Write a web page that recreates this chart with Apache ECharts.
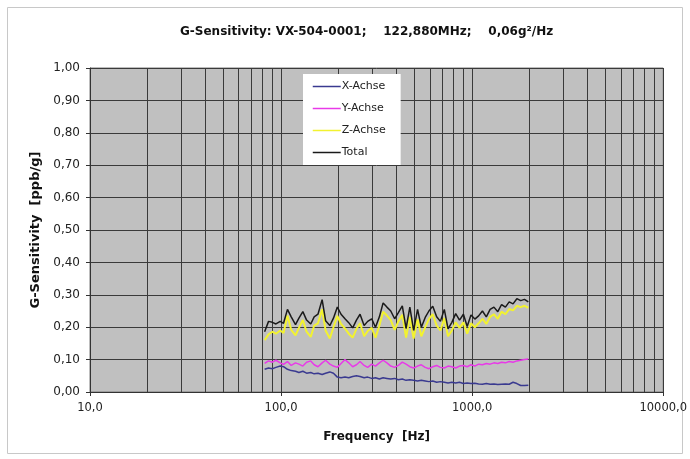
<!DOCTYPE html>
<html>
<head>
<meta charset="utf-8">
<script src="https://cdn.jsdelivr.net/npm/echarts@6/dist/echarts.min.js"></script>
<style>
html,body{margin:0;padding:0;background:#fff;}
#chart{width:690px;height:459px;}
</style>
</head>
<body>
<div id="chart"></div>
<script>
// Frequencies [Hz]
var freq = [82, 86, 90, 94, 99, 103, 108, 113, 119, 124, 130, 136, 143, 149, 156, 164, 171, 180, 188, 197,
  206, 216, 226, 237, 248, 259, 272, 284, 298, 312, 327, 342, 358, 375, 393, 411, 431, 451, 472, 494,
  518, 542, 568, 594, 622, 652, 682, 715, 748, 783, 820, 859, 900, 942, 986, 1033, 1081, 1132, 1186, 1242,
  1300, 1362, 1426, 1493, 1563, 1637, 1714, 1795, 1879, 1968];

var xAchse = [0.070, 0.074, 0.072, 0.076, 0.080, 0.078, 0.070, 0.066, 0.064, 0.060,
  0.064, 0.058, 0.060, 0.056, 0.058, 0.054, 0.058, 0.062, 0.058, 0.046,
  0.044, 0.046, 0.044, 0.048, 0.050, 0.048, 0.044, 0.046, 0.042, 0.044,
  0.040, 0.044, 0.042, 0.040, 0.042, 0.038, 0.040, 0.036, 0.038, 0.036,
  0.034, 0.036, 0.034, 0.032, 0.034, 0.030, 0.032, 0.030, 0.028, 0.030,
  0.028, 0.030, 0.026, 0.028, 0.026, 0.027, 0.025, 0.024, 0.026, 0.024,
  0.025, 0.023, 0.024, 0.025, 0.024, 0.030, 0.026, 0.020, 0.020, 0.021];

var yAchse = [0.088, 0.096, 0.092, 0.098, 0.090, 0.085, 0.094, 0.082, 0.090, 0.086,
  0.080, 0.092, 0.096, 0.084, 0.078, 0.090, 0.098, 0.086, 0.080, 0.076,
  0.088, 0.100, 0.090, 0.078, 0.084, 0.094, 0.082, 0.076, 0.086, 0.080,
  0.090, 0.098, 0.090, 0.080, 0.076, 0.082, 0.092, 0.086, 0.078, 0.074,
  0.080, 0.084, 0.076, 0.072, 0.078, 0.082, 0.076, 0.074, 0.080, 0.078,
  0.074, 0.080, 0.082, 0.078, 0.084, 0.080, 0.086, 0.084, 0.088, 0.086,
  0.090, 0.088, 0.092, 0.090, 0.094, 0.092, 0.096, 0.098, 0.100, 0.102];

var zAchse = [0.160, 0.178, 0.186, 0.180, 0.190, 0.182, 0.236, 0.192, 0.175, 0.198,
  0.222, 0.186, 0.170, 0.205, 0.212, 0.255, 0.190, 0.165, 0.200, 0.235,
  0.210, 0.196, 0.180, 0.168, 0.195, 0.212, 0.172, 0.188, 0.198, 0.168,
  0.205, 0.248, 0.236, 0.222, 0.192, 0.218, 0.238, 0.168, 0.232, 0.165,
  0.225, 0.172, 0.200, 0.225, 0.240, 0.205, 0.190, 0.228, 0.172, 0.190,
  0.215, 0.198, 0.215, 0.180, 0.212, 0.200, 0.212, 0.226, 0.210, 0.232,
  0.240, 0.226, 0.248, 0.240, 0.256, 0.252, 0.266, 0.262, 0.266, 0.260];

var total = [0.186, 0.218, 0.215, 0.210, 0.218, 0.212, 0.255, 0.232, 0.208, 0.228,
  0.248, 0.222, 0.210, 0.232, 0.240, 0.285, 0.220, 0.205, 0.228, 0.262,
  0.240, 0.226, 0.214, 0.198, 0.222, 0.240, 0.205, 0.218, 0.226, 0.200,
  0.232, 0.275, 0.262, 0.250, 0.226, 0.245, 0.266, 0.196, 0.262, 0.190,
  0.255, 0.200, 0.230, 0.250, 0.265, 0.232, 0.218, 0.255, 0.195, 0.215,
  0.242, 0.222, 0.240, 0.202, 0.238, 0.225, 0.235, 0.250, 0.232, 0.255,
  0.262, 0.248, 0.270, 0.262, 0.278, 0.272, 0.288, 0.282, 0.286, 0.278];

var seriesNames = ['X-Achse', 'Y-Achse', 'Z-Achse', 'Total'];
var minorGridX = [20, 30, 40, 50, 60, 70, 80, 90, 200, 300, 400, 500, 600, 700, 800, 900,
  2000, 3000, 4000, 5000, 6000, 7000, 8000, 9000];
var titleText = 'G-Sensitivity: VX-504-0001;    122,880MHz;    0,06g\u00B2/Hz';

function pairs(vals) { return freq.map(function (f, i) { return [f, vals[i]]; }); }

var FONT = '"DejaVu Sans", Verdana, sans-serif';
var colors = ['#3a3a90', '#e83ae8', '#f2f230', '#1a1a1a'];
var vals = [xAchse, yAchse, zAchse, total];

var series = [{
  name: 'grid-minor',
  type: 'line',
  data: [],
  silent: true,
  z: 1,
  markLine: {
    silent: true,
    symbol: 'none',
    z: 1,
    label: { show: false },
    lineStyle: { color: '#3a3a3a', width: 1, type: 'solid' },
    emphasis: { disabled: true },
    animation: false,
    data: minorGridX.map(function (v) { return { xAxis: v }; })
  }
}];
seriesNames.forEach(function (n, k) {
  series.push({
    name: n,
    type: 'line',
    data: pairs(vals[k]),
    symbol: 'none',
    z: 3 + k,
    lineStyle: { color: colors[k], width: k === 2 ? 2 : 1.5 },
    itemStyle: { color: colors[k] }
  });
});

var chart = echarts.init(document.getElementById('chart'), null, { renderer: 'canvas' });
chart.setOption({
  animation: false,
  backgroundColor: '#ffffff',
  textStyle: { fontFamily: FONT },
  title: {
    text: titleText,
    left: 180,
    top: 26,
    padding: 0,
    textStyle: { fontSize: 12, fontWeight: 'bold', color: '#111', fontFamily: FONT }
  },
  graphic: [{
    type: 'rect',
    shape: { x: 7.5, y: 7.5, width: 675, height: 446 },
    style: { fill: 'none', stroke: '#c8c8c8', lineWidth: 1 },
    silent: true,
    z: -1
  }],
  legend: {
    data: seriesNames,
    orient: 'vertical',
    left: 303,
    top: 74,
    backgroundColor: '#ffffff',
    padding: [7, 15, 7, 9],
    itemWidth: 28,
    itemHeight: 12,
    itemGap: 11,
    itemStyle: { opacity: 0 },
    lineStyle: { width: 1.5 },
    textStyle: { fontSize: 11, color: '#222', fontFamily: FONT, padding: [0, 0, 0, -4] }
  },
  grid: {
    left: 90, right: 25, top: 68, bottom: 67,
    show: true,
    backgroundColor: '#c0c0c0',
    borderColor: '#7a7a7a',
    borderWidth: 1
  },
  xAxis: {
    type: 'log',
    logBase: 10,
    min: 10,
    max: 10000,
    name: 'Frequency  [Hz]',
    nameLocation: 'middle',
    nameGap: 39,
    nameTextStyle: { fontSize: 12, fontWeight: 'bold', color: '#111', fontFamily: FONT },
    axisLine: { show: true, onZero: false, lineStyle: { color: '#333', width: 1 } },
    axisTick: { show: true, inside: false, length: 4, lineStyle: { color: '#333' } },
    axisLabel: {
      fontSize: 11.5, color: '#222', margin: 10, fontFamily: FONT,
      formatter: function (v) { return v.toFixed(1).replace('.', ','); }
    },
    splitLine: { show: true, lineStyle: { color: '#3a3a3a', width: 1 } }
  },
  yAxis: {
    type: 'value',
    min: 0,
    max: 1,
    interval: 0.1,
    name: 'G-Sensitivity  [ppb/g]',
    nameLocation: 'middle',
    nameGap: 46,
    nameTextStyle: { fontSize: 13, fontWeight: 'bold', color: '#111', fontFamily: FONT },
    axisLine: { show: true, lineStyle: { color: '#333', width: 1 } },
    axisTick: { show: true, inside: false, length: 4, lineStyle: { color: '#333' } },
    axisLabel: {
      fontSize: 12, color: '#222', margin: 10, fontFamily: FONT,
      formatter: function (v) { return v.toFixed(2).replace('.', ','); }
    },
    splitLine: { show: true, lineStyle: { color: '#3a3a3a', width: 1 } }
  },
  series: series
});
</script>
</body>
</html>
